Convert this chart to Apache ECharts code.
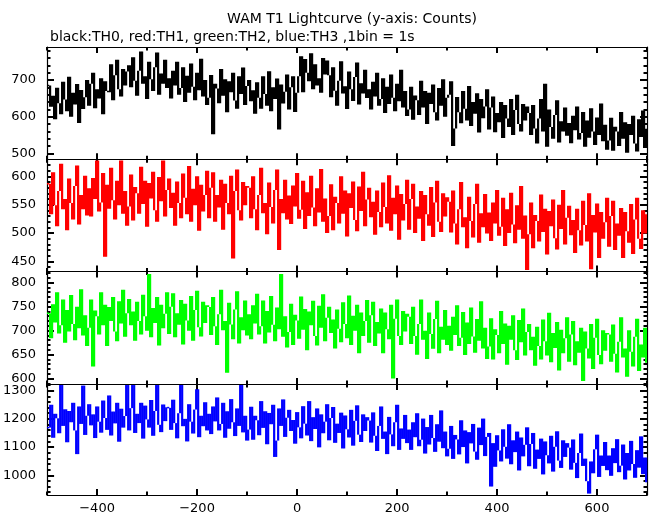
<!DOCTYPE html>
<html><head><meta charset="utf-8">
<script src="https://cdn.jsdelivr.net/npm/echarts@6/dist/echarts.min.js"></script>
<style>html,body{margin:0;padding:0;background:#fff}#c{width:652px;height:515px}</style>
</head><body><div id="c"></div>
<script>
// plotted bins: start -500 s, 4 s per plotted bin (300 bins)
const binStart = -500, binWidth = 4;

const th0 = [
685,627,657,593,679,637,607,695,647,615,709,600,665,633,689,583,673,621,653,700,
630,690,720,623,675,650,705,607,697,670,667,743,645,713,755,675,655,730,685,723,
740,680,762,698,657,725,778,690,710,648,750,702,670,735,775,660,718,690,755,678,
705,650,725,685,750,660,678,735,640,712,665,745,682,645,720,672,758,655,700,632,
652,714,552,690,677,637,730,657,702,612,697,667,720,644,622,710,662,734,632,684,
700,642,672,608,694,652,622,710,662,630,724,615,680,648,704,565,688,636,668,715,
620,680,710,613,665,710,765,667,757,720,697,773,675,743,685,705,665,760,715,753,
713,653,735,671,630,698,751,663,683,621,723,675,643,708,748,633,691,663,728,651,
675,620,695,655,720,630,648,705,610,682,635,715,652,615,690,642,728,625,670,602,
620,682,592,658,645,605,698,625,670,580,665,635,688,612,590,678,630,702,600,652,
660,697,520,568,654,612,582,670,622,590,684,575,640,608,664,557,648,596,628,675,
565,625,655,558,610,585,640,542,632,595,572,648,550,618,660,580,560,635,590,628,
610,550,632,568,527,595,648,560,690,518,620,572,540,605,645,530,588,560,625,548,
583,528,603,563,628,538,556,613,518,590,543,623,560,523,598,550,636,533,578,510,
535,597,507,573,560,520,613,540,585,502,580,550,603,527,505,593,545,617,515,567
];
const th1 = [
587,533,607,549,512,574,622,542,560,505,596,553,524,583,619,515,567,542,601,531,
579,529,597,560,628,538,554,606,458,585,543,615,558,524,592,549,628,534,574,513,
547,603,522,581,570,534,617,551,592,511,588,561,608,540,520,599,556,628,529,576,
596,544,571,513,591,553,526,605,562,533,618,520,578,549,600,504,585,538,567,610,
526,580,607,520,567,545,594,506,587,553,533,601,455,574,612,540,522,590,549,583,
580,526,600,542,505,567,615,535,553,498,589,546,517,576,612,470,560,535,594,524,
566,516,584,547,606,525,541,592,507,572,530,601,545,512,579,536,613,520,561,500,
530,586,505,564,553,517,600,534,575,494,570,544,591,523,503,582,539,608,512,559,
580,528,555,497,575,537,510,589,546,517,602,504,562,533,584,488,569,522,551,594,
506,560,587,500,547,525,574,486,567,533,513,581,493,554,592,520,502,570,529,563,
555,501,575,517,480,542,590,510,528,473,564,521,492,551,587,483,535,510,569,499,
536,486,554,517,576,495,511,562,477,542,500,571,515,482,549,506,583,490,531,435,
498,554,473,532,521,485,568,502,543,462,539,512,559,491,471,550,507,576,480,527,
548,496,523,465,543,505,478,557,514,485,570,436,532,501,552,456,537,490,519,562,
476,530,557,470,517,495,544,456,537,503,483,551,463,524,562,490,472,540,499,533
];
const th2 = [
736,684,755,717,780,694,711,765,675,743,698,774,714,680,750,705,786,690,732,668,
706,765,625,742,730,692,780,711,754,668,749,720,770,698,678,761,715,785,687,736,
766,711,740,679,760,720,692,775,730,700,818,686,747,716,770,669,754,705,735,780,
693,750,778,686,736,712,764,671,756,721,700,772,679,743,783,707,688,760,716,753,
749,691,770,709,670,734,785,701,720,612,758,713,682,744,782,673,728,701,763,690,
734,682,753,715,777,692,709,763,673,741,696,772,712,678,748,703,818,687,730,665,
697,756,670,733,721,683,771,702,745,659,740,711,762,689,669,752,706,776,678,727,
750,695,723,663,744,704,676,759,714,684,773,670,731,700,754,653,738,689,720,764,
675,732,760,668,718,694,746,653,738,703,682,754,600,725,765,689,670,741,698,735,
729,672,750,689,650,714,765,681,700,641,738,693,662,724,762,653,708,681,743,670,
710,658,729,691,753,668,685,739,649,717,672,748,688,654,724,679,761,663,706,641,
667,726,640,703,691,653,741,672,715,629,710,681,732,659,639,722,676,746,648,697,
714,659,687,627,708,668,640,723,678,648,737,634,695,664,718,617,702,653,684,728,
635,692,720,628,678,654,706,595,698,663,642,714,620,685,725,649,630,701,658,695,
692,635,713,652,613,677,728,644,663,604,701,656,625,687,725,616,671,644,706,633
];
const th3 = [
1169,1250,1133,1218,1202,1149,1320,1175,1234,1117,1228,1188,1257,1159,1075,1244,1182,1318,1143,1211,
1252,1177,1216,1132,1244,1190,1151,1265,1203,1161,1283,1141,1226,1184,1257,1119,1236,1169,1210,1320,
1159,1238,1320,1150,1218,1185,1257,1130,1247,1198,1169,1267,1140,1228,1320,1179,1153,1251,1192,1241,
1239,1161,1268,1185,1131,1220,1320,1174,1200,1120,1252,1190,1148,1233,1305,1135,1211,1174,1259,1159,
1218,1146,1244,1191,1276,1159,1182,1257,1133,1227,1165,1270,1188,1139,1237,1175,1320,1152,1211,1123,
1162,1243,1126,1211,1195,1142,1263,1168,1227,1110,1221,1181,1250,1065,1123,1237,1175,1269,1136,1204,
1232,1157,1196,1112,1224,1170,1131,1245,1183,1141,1263,1121,1206,1164,1237,1099,1216,1149,1190,1252,
1124,1203,1242,1115,1183,1150,1222,1095,1212,1163,1134,1232,1105,1193,1248,1144,1118,1216,1157,1206,
1194,1116,1223,1140,1086,1175,1244,1129,1155,1075,1207,1145,1103,1188,1250,1090,1166,1129,1214,1114,
1162,1090,1188,1135,1220,1103,1126,1201,1077,1171,1109,1214,1132,1083,1181,1119,1230,1096,1155,1067,
1094,1175,1058,1143,1127,1074,1195,1100,1159,1042,1153,1113,1182,1084,1055,1169,1107,1201,1068,1136,
1150,960,1114,1030,1142,1088,1049,1163,1101,1059,1181,1039,1124,1082,1155,1017,1134,1067,1108,1170,
1032,1111,1150,1023,1091,1058,1130,1003,1120,1071,1042,1140,1013,1101,1156,1052,1026,1124,1065,1114,
1098,1020,1127,1044,990,1079,1148,1033,1059,979,935,1049,1007,1092,1144,994,1070,1033,1118,1018,
1070,998,1096,1043,1128,1011,1034,1109,985,1079,1017,1122,1040,991,1089,1027,1138,1004,1063,975
];

const xMajorTicks = [-400,-200,0,200,400,600];
const xMinorTicks = [-500,-300,-100,100,300,500,700];
const yMajorTicks = [
  [500,600,700],
  [450,500,550,600],
  [600,650,700,750,800],
  [1000,1100,1200,1300]
];
const yMinorTicks = [
  [500,520,540,560,580,600,620,640,660,680,700,720,740,760,780],
  [440,450,460,470,480,490,500,510,520,530,540,550,560,570,580,590,600,610,620],
  [590,600,610,620,630,640,650,660,670,680,690,700,710,720,730,740,750,760,770,780,790,800,810,820],
  [940,960,980,1000,1020,1040,1060,1080,1100,1120,1140,1160,1180,1200,1220,1240,1260,1280,1300,1320]
];
const yRanges = [[484,790],[432,630],[589,823],[930,1324]];
const seriesNames = ['TH0','TH1','TH2','TH3'];
const seriesColors = ['#000000','#ff0000','#00ff00','#0000ff'];
const titleText = 'WAM T1 Lightcurve (y-axis: Counts)';
const subtitleText = 'black:TH0, red:TH1, green:TH2, blue:TH3 ,1bin = 1s';

const panels = [th0, th1, th2, th3];
const times = th0.map((_, i) => binStart + i * binWidth);

const FONT = 'DejaVu Sans';
const grids = [], xAxes = [], yAxes = [], series = [];
const top0 = 47, ph = 112.3;
const ticks = (vals, len) => ({show:true, inside:true, length:len, customValues:vals, lineStyle:{color:'#000', width:2}});
const lineOn = {show:true, onZero:false, lineStyle:{color:'#000', width:1.2}};
const lineOff = {show:false, onZero:false};

// histogram-style step: each bin draws the riser from the previous count to its own count
function makeRender(color) {
  return function (params, api) {
    const t = api.value(0), v = api.value(1), pv = api.value(2);
    const hi = Math.max(v, pv), lo = Math.min(v, pv);
    const a = api.coord([t, hi]);
    const b = api.coord([t + binWidth, lo]);
    let h = b[1] - a[1];
    let y = a[1];
    if (h < 1.5) { y -= (1.5 - h) / 2; h = 1.5; }
    return {
      type: 'rect',
      shape: { x: a[0], y: y, width: (b[0] - a[0]) + 0.2, height: h },
      style: { fill: color }
    };
  };
}

panels.forEach((vals, i) => {
  grids.push({left:47, width:600, top: top0 + i*ph, height: ph});
  const xb = {type:'value', gridIndex:i, min:-500, max:700, splitLine:{show:false}, axisLabel:{show:false}};
  xAxes.push(Object.assign({}, xb, {position:'bottom', axisLine:lineOn, axisTick: ticks(xMajorTicks, 6),
    axisLabel: i === 3 ? {show:true, customValues:xMajorTicks, color:'#000', fontFamily:FONT, fontSize:13, margin:7,
      formatter: v => String(v).replace('-', '\u2212')} : {show:false}}));
  xAxes.push(Object.assign({}, xb, {position:'bottom', axisLine:lineOff, axisTick: ticks(xMinorTicks, 3.5)}));
  xAxes.push(Object.assign({}, xb, {position:'top', axisLine:lineOn, axisTick: ticks(xMajorTicks, 6)}));
  xAxes.push(Object.assign({}, xb, {position:'top', axisLine:lineOff, axisTick: ticks(xMinorTicks, 3.5)}));

  const yb = {type:'value', gridIndex:i, min:yRanges[i][0], max:yRanges[i][1], splitLine:{show:false}, axisLabel:{show:false}};
  yAxes.push(Object.assign({}, yb, {position:'left', axisLine:lineOn, axisTick: ticks(yMajorTicks[i], 7),
    axisLabel:{show:true, customValues:yMajorTicks[i], color:'#000', fontFamily:FONT, fontSize:13, margin:11,
      formatter: v => String(v)}}));
  yAxes.push(Object.assign({}, yb, {position:'left', axisLine:lineOff, axisTick: ticks(yMinorTicks[i], 3.5)}));
  yAxes.push(Object.assign({}, yb, {position:'right', axisLine:lineOn, axisTick: ticks(yMajorTicks[i], 7)}));
  yAxes.push(Object.assign({}, yb, {position:'right', axisLine:lineOff, axisTick: ticks(yMinorTicks[i], 3.5)}));

  series.push({
    name: seriesNames[i], type:'custom', xAxisIndex: i*4, yAxisIndex: i*4,
    data: times.map((t, k) => [t, vals[k], k > 0 ? vals[k-1] : vals[k]]),
    encode: {x: 0, y: [1, 2]},
    renderItem: makeRender(seriesColors[i]),
    clip: true, silent: true, z: 1
  });
});

const chart = echarts.init(document.getElementById('c'), null, {renderer:'canvas'});
chart.setOption({
  animation:false,
  backgroundColor:'#ffffff',
  title:[
    {text: titleText, left: 347, top: 7, textAlign:'center',
      textStyle:{fontFamily:FONT, fontSize:14, fontWeight:'normal', color:'#000'}},
    {text: subtitleText, left: 45, top: 25,
      textStyle:{fontFamily:FONT, fontSize:14, fontWeight:'normal', color:'#000'}}
  ],
  grid: grids, xAxis: xAxes, yAxis: yAxes, series: series
});
</script></body></html>
